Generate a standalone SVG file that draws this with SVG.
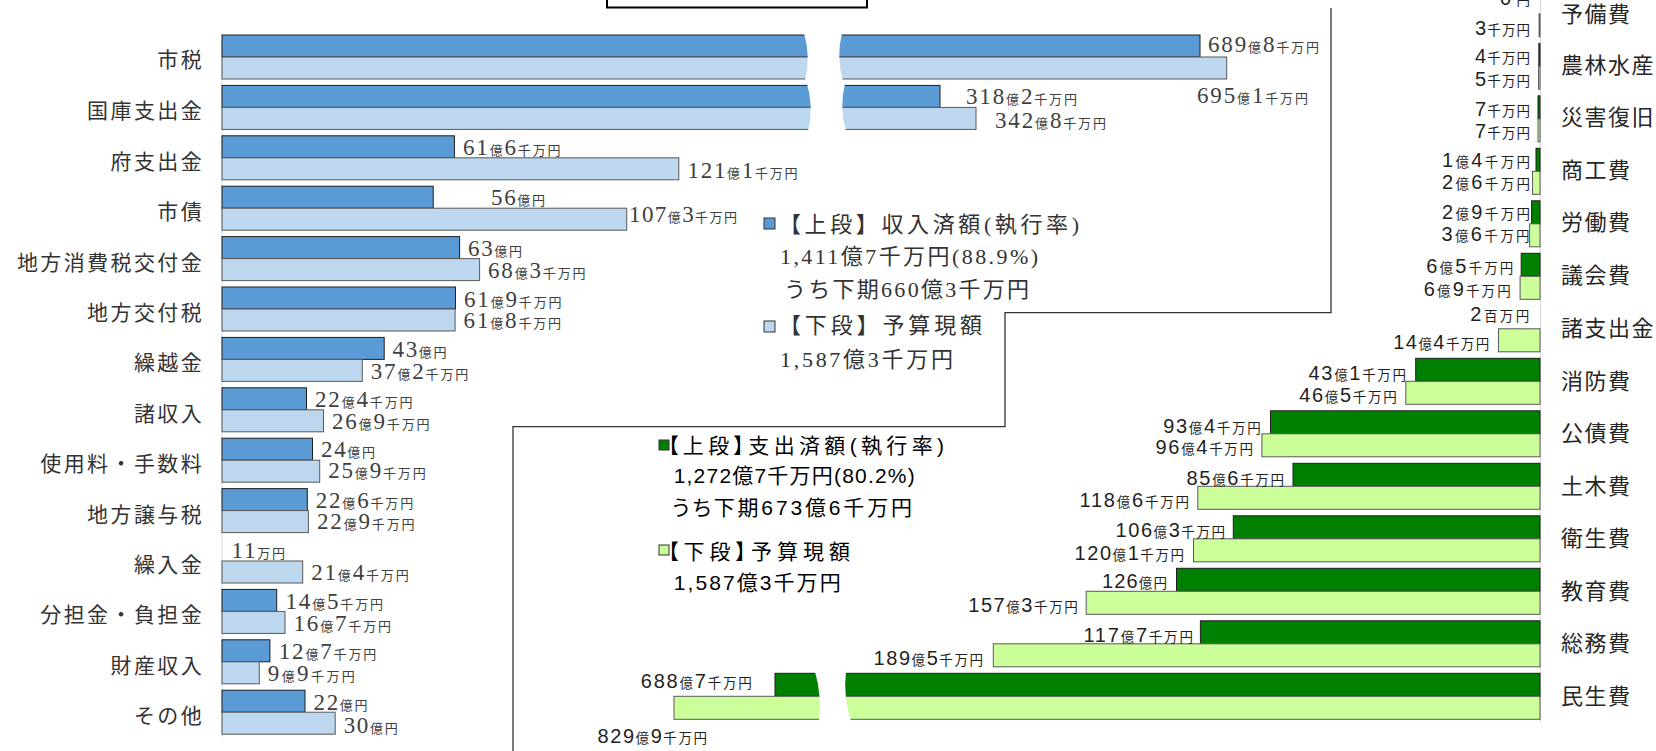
<svg xmlns="http://www.w3.org/2000/svg" width="1656" height="751" viewBox="0 0 1656 751">
<style>
.lc{font-family:"Noto Sans CJK JP",sans-serif;font-size:21px;fill:#333;letter-spacing:2.4px;text-anchor:end}
.rc{font-family:"Noto Sans CJK JP",sans-serif;font-size:22px;fill:#262626;letter-spacing:1.5px}
.lv{font-family:"Liberation Serif","Noto Sans CJK JP",serif;font-size:23px;fill:#404040}
.rv{font-family:"Liberation Sans","Noto Sans CJK JP",sans-serif;font-size:20px;fill:#1f1f1f;text-anchor:end}
.s{font-size:13px}
.rv .s{font-size:13.5px}
.b1{fill:#5B9BD5;stroke:#1f1f1f;stroke-width:1}
.b2{fill:#BDD7EE;stroke:#595959;stroke-width:1}
.g1{fill:#008000;stroke:#1f1f1f;stroke-width:1}
.g2{fill:#CCFF99;stroke:#595959;stroke-width:1}
.brk{fill:#fff;stroke:none}
.axis{stroke:#d9d9d9;stroke-width:1;fill:none}
.lg{font-family:"Liberation Serif","Noto Sans CJK JP",serif;font-size:22px;fill:#333}
.rg{font-family:"Liberation Sans","Noto Sans CJK JP",sans-serif;font-size:21px;fill:#000;font-feature-settings:"palt"}
</style>
<rect width="1656" height="751" fill="#fff"/>
<g id="connectors">
<rect x="607" y="-20" width="260" height="27.5" fill="#fff" stroke="#000" stroke-width="2"/>
<path d="M1331,8 V312.7 H1005 V426.7 H513 V751" fill="none" stroke="#333" stroke-width="1.3"/>
<line class="axis" x1="222" y1="33" x2="222" y2="737"/>
<line class="axis" x1="1540.5" y1="0" x2="1540.5" y2="722"/>
</g>
<!-- Revenue (left) -->
<g id="rev-0"><text class="lc" x="204.1" y="67">市税</text>
<rect class="b1" x="222" y="35" width="978" height="22"/><rect class="b2" x="222" y="57" width="1004.7" height="22"/>
<path class="brk" d="M804,33 Q811,57 805,81 L843,81 Q836,57 842,33 Z"/>
<text class="lv" x="1208" y="52" textLength="111">689<tspan class="s">億</tspan>8<tspan class="s">千万円</tspan></text>
<text class="lv" x="1197" y="103" textLength="111">695<tspan class="s">億</tspan>1<tspan class="s">千万円</tspan></text></g>
<g id="rev-1"><text class="lc" x="204.1" y="118.4">国庫支出金</text>
<rect class="b1" x="222" y="85.4" width="718" height="22"/><rect class="b2" x="222" y="107.4" width="754" height="22"/>
<path class="brk" d="M807,83.5 Q814,107.4 808,131.5 L846,131.5 Q839,107.4 845,83.5 Z"/>
<text class="lv" x="966" y="104" textLength="111">318<tspan class="s">億</tspan>2<tspan class="s">千万円</tspan></text>
<text class="lv" x="995" y="128.3" textLength="111">342<tspan class="s">億</tspan>8<tspan class="s">千万円</tspan></text></g>
<g id="rev-2"><text class="lc" x="204.1" y="168.8">府支出金</text>
<rect class="b1" x="222" y="135.8" width="232.4" height="22"/><rect class="b2" x="222" y="157.8" width="456.8" height="22"/>
<text class="lv" x="463" y="155" textLength="97.5">61<tspan class="s">億</tspan>6<tspan class="s">千万円</tspan></text>
<text class="lv" x="687.5" y="178.3" textLength="110">121<tspan class="s">億</tspan>1<tspan class="s">千万円</tspan></text></g>
<g id="rev-3"><text class="lc" x="204.1" y="219.2">市債</text>
<rect class="b1" x="222" y="186.2" width="211.2" height="22"/><rect class="b2" x="222" y="208.2" width="404.7" height="22"/>
<text class="lv" x="491" y="205" textLength="54">56<tspan class="s">億円</tspan></text>
<text class="lv" x="629" y="222" textLength="108">107<tspan class="s">億</tspan>3<tspan class="s">千万円</tspan></text></g>
<g id="rev-4"><text class="lc" x="204.1" y="269.6">地方消費税交付金</text>
<rect class="b1" x="222" y="236.6" width="237.6" height="22"/><rect class="b2" x="222" y="258.6" width="257.6" height="22"/>
<text class="lv" x="468" y="256" textLength="54">63<tspan class="s">億円</tspan></text>
<text class="lv" x="488" y="278.3" textLength="97.5">68<tspan class="s">億</tspan>3<tspan class="s">千万円</tspan></text></g>
<g id="rev-5"><text class="lc" x="204.1" y="320">地方交付税</text>
<rect class="b1" x="222" y="287" width="233.5" height="22"/><rect class="b2" x="222" y="309" width="233.1" height="22"/>
<text class="lv" x="464" y="306.7" textLength="97.5">61<tspan class="s">億</tspan>9<tspan class="s">千万円</tspan></text>
<text class="lv" x="463.6" y="328.3" textLength="97.5">61<tspan class="s">億</tspan>8<tspan class="s">千万円</tspan></text></g>
<g id="rev-6"><text class="lc" x="204.1" y="370.4">繰越金</text>
<rect class="b1" x="222" y="337.4" width="162.2" height="22"/><rect class="b2" x="222" y="359.4" width="140.3" height="22"/>
<text class="lv" x="392.5" y="357.3" textLength="54">43<tspan class="s">億円</tspan></text>
<text class="lv" x="370.8" y="379" textLength="97.5">37<tspan class="s">億</tspan>2<tspan class="s">千万円</tspan></text></g>
<g id="rev-7"><text class="lc" x="204.1" y="420.8">諸収入</text>
<rect class="b1" x="222" y="387.8" width="84.5" height="22"/><rect class="b2" x="222" y="409.8" width="101.5" height="22"/>
<text class="lv" x="315" y="406.7" textLength="97.5">22<tspan class="s">億</tspan>4<tspan class="s">千万円</tspan></text>
<text class="lv" x="332" y="429.3" textLength="97.5">26<tspan class="s">億</tspan>9<tspan class="s">千万円</tspan></text></g>
<g id="rev-8"><text class="lc" x="204.1" y="471.2">使用料・手数料</text>
<rect class="b1" x="222" y="438.2" width="90.5" height="22"/><rect class="b2" x="222" y="460.2" width="97.7" height="22"/>
<text class="lv" x="321" y="457.3" textLength="54">24<tspan class="s">億円</tspan></text>
<text class="lv" x="328.2" y="478.3" textLength="97.5">25<tspan class="s">億</tspan>9<tspan class="s">千万円</tspan></text></g>
<g id="rev-9"><text class="lc" x="204.1" y="521.6">地方譲与税</text>
<rect class="b1" x="222" y="488.6" width="85.3" height="22"/><rect class="b2" x="222" y="510.6" width="86.4" height="22"/>
<text class="lv" x="315.7" y="508" textLength="97.5">22<tspan class="s">億</tspan>6<tspan class="s">千万円</tspan></text>
<text class="lv" x="317" y="529.3" textLength="97.5">22<tspan class="s">億</tspan>9<tspan class="s">千万円</tspan></text></g>
<g id="rev-10"><text class="lc" x="204.1" y="572">繰入金</text>
<rect class="b2" x="222" y="561" width="80.7" height="22"/>
<text class="lv" x="231.5" y="558.3" textLength="53.5">11<tspan class="s">万円</tspan></text>
<text class="lv" x="311.2" y="580" textLength="97.5">21<tspan class="s">億</tspan>4<tspan class="s">千万円</tspan></text></g>
<g id="rev-11"><text class="lc" x="204.1" y="622.4">分担金・負担金</text>
<rect class="b1" x="222" y="589.4" width="54.7" height="22"/><rect class="b2" x="222" y="611.4" width="63" height="22"/>
<text class="lv" x="285.5" y="609.3" textLength="97.5">14<tspan class="s">億</tspan>5<tspan class="s">千万円</tspan></text>
<text class="lv" x="293.5" y="631" textLength="97.5">16<tspan class="s">億</tspan>7<tspan class="s">千万円</tspan></text></g>
<g id="rev-12"><text class="lc" x="204.1" y="672.8">財産収入</text>
<rect class="b1" x="222" y="639.8" width="47.9" height="22"/><rect class="b2" x="222" y="661.8" width="37.3" height="22"/>
<text class="lv" x="278.8" y="659.3" textLength="97.5">12<tspan class="s">億</tspan>7<tspan class="s">千万円</tspan></text>
<text class="lv" x="267.8" y="681" textLength="87">9<tspan class="s">億</tspan>9<tspan class="s">千万円</tspan></text></g>
<g id="rev-13"><text class="lc" x="204.1" y="723.2">その他</text>
<rect class="b1" x="222" y="690.2" width="83" height="22"/><rect class="b2" x="222" y="712.2" width="113.2" height="22"/>
<text class="lv" x="313.5" y="710" textLength="54">22<tspan class="s">億円</tspan></text>
<text class="lv" x="343.7" y="733.3" textLength="54">30<tspan class="s">億円</tspan></text></g>
<!-- Revenue legend -->
<g id="legend-revenue">
<rect x="764" y="218" width="11" height="11" fill="#5B9BD5" stroke="#333"/>
<text class="lg" x="779" y="232" textLength="300">【上段】収入済額(執行率)</text>
<text class="lg" x="780" y="264" textLength="258">1,411億7千万円(88.9%)</text>
<text class="lg" x="784" y="297" textLength="245">うち下期660億3千万円</text>
<rect x="764" y="321" width="11" height="11" fill="#BDD7EE" stroke="#333"/>
<text class="lg" x="779" y="333" textLength="203">【下段】予算現額</text>
<text class="lg" x="780" y="367" textLength="173">1,587億3千万円</text>
</g>
<!-- Expenditure legend -->
<g id="legend-expenditure">
<rect x="659" y="440" width="10" height="10" fill="#008000" stroke="#333"/>
<text class="rg" x="668" y="453" textLength="276">【上段】支出済額(執行率)</text>
<text class="rg" x="673.7" y="483.3" textLength="241">1,272億7千万円(80.2%)</text>
<text class="rg" x="672" y="515" textLength="240">うち下期673億6千万円</text>
<rect x="659" y="545" width="10" height="10" fill="#CCFF99" stroke="#333"/>
<text class="rg" x="668" y="559" textLength="182">【下段】予算現額</text>
<text class="rg" x="673.7" y="590" textLength="167">1,587億3千万円</text>
</g>
<!-- Expenditure (right) -->
<g id="exp-0"><text class="rc" x="1561" y="22">予備費</text>
<rect class="g2" x="1539.1" y="13.8" width="0.9" height="23"/>
<text class="rv" x="1530" y="5" textLength="30">0<tspan class="s">円</tspan></text>
<text class="rv" x="1530" y="35" textLength="55">3<tspan class="s">千万円</tspan></text></g>
<g id="exp-1"><text class="rc" x="1561" y="72.5">農林水産</text>
<rect class="g1" x="1538.85" y="43.3" width="1.15" height="23"/><rect class="g2" x="1538.56" y="66.3" width="1.44" height="23"/>
<text class="rv" x="1530" y="63" textLength="55">4<tspan class="s">千万円</tspan></text>
<text class="rv" x="1530" y="86" textLength="55">5<tspan class="s">千万円</tspan></text></g>
<g id="exp-2"><text class="rc" x="1561" y="125">災害復旧</text>
<rect class="g1" x="1538" y="95.8" width="2" height="23"/><rect class="g2" x="1538" y="118.8" width="2" height="23"/>
<text class="rv" x="1530" y="116" textLength="55">7<tspan class="s">千万円</tspan></text>
<text class="rv" x="1530" y="138" textLength="55">7<tspan class="s">千万円</tspan></text></g>
<g id="exp-3"><text class="rc" x="1561" y="177.5">商工費</text>
<rect class="g1" x="1536" y="148.3" width="4" height="23"/><rect class="g2" x="1532.5" y="171.3" width="7.5" height="23"/>
<text class="rv" x="1530" y="167" textLength="88">1<tspan class="s">億</tspan>4<tspan class="s">千万円</tspan></text>
<text class="rv" x="1530" y="189" textLength="88">2<tspan class="s">億</tspan>6<tspan class="s">千万円</tspan></text></g>
<g id="exp-4"><text class="rc" x="1561" y="230">労働費</text>
<rect class="g1" x="1531.6" y="200.8" width="8.4" height="23"/><rect class="g2" x="1529.6" y="223.8" width="10.4" height="23"/>
<text class="rv" x="1530" y="219" textLength="88">2<tspan class="s">億</tspan>9<tspan class="s">千万円</tspan></text>
<text class="rv" x="1529.5" y="241" textLength="88">3<tspan class="s">億</tspan>6<tspan class="s">千万円</tspan></text></g>
<g id="exp-5"><text class="rc" x="1561" y="283">議会費</text>
<rect class="g1" x="1521.2" y="253.3" width="18.8" height="23"/><rect class="g2" x="1520.1" y="276.3" width="19.9" height="23"/>
<text class="rv" x="1513.3" y="273" textLength="87">6<tspan class="s">億</tspan>5<tspan class="s">千万円</tspan></text>
<text class="rv" x="1510.7" y="296" textLength="87">6<tspan class="s">億</tspan>9<tspan class="s">千万円</tspan></text></g>
<g id="exp-6"><text class="rc" x="1561" y="336">諸支出金</text>
<rect class="g2" x="1498.5" y="328.8" width="41.5" height="23"/>
<text class="rv" x="1529.3" y="321" textLength="59">2<tspan class="s">百万円</tspan></text>
<text class="rv" x="1489.3" y="349" textLength="96">14<tspan class="s">億</tspan>4<tspan class="s">千万円</tspan></text></g>
<g id="exp-7"><text class="rc" x="1561" y="388.5">消防費</text>
<rect class="g1" x="1415.7" y="358.3" width="124.3" height="23"/><rect class="g2" x="1405.8" y="381.3" width="134.2" height="23"/>
<text class="rv" x="1406" y="380" textLength="97.5">43<tspan class="s">億</tspan>1<tspan class="s">千万円</tspan></text>
<text class="rv" x="1396.7" y="402" textLength="97.5">46<tspan class="s">億</tspan>5<tspan class="s">千万円</tspan></text></g>
<g id="exp-8"><text class="rc" x="1561" y="441">公債費</text>
<rect class="g1" x="1270.5" y="410.8" width="269.5" height="23"/><rect class="g2" x="1261.9" y="433.8" width="278.1" height="23"/>
<text class="rv" x="1260.7" y="432.7" textLength="97.5">93<tspan class="s">億</tspan>4<tspan class="s">千万円</tspan></text>
<text class="rv" x="1253" y="454" textLength="97.5">96<tspan class="s">億</tspan>4<tspan class="s">千万円</tspan></text></g>
<g id="exp-9"><text class="rc" x="1561" y="493.5">土木費</text>
<rect class="g1" x="1293" y="463.3" width="247" height="23"/><rect class="g2" x="1197.8" y="486.3" width="342.2" height="23"/>
<text class="rv" x="1284" y="485" textLength="97.5">85<tspan class="s">億</tspan>6<tspan class="s">千万円</tspan></text>
<text class="rv" x="1189" y="507.3" textLength="109.5">118<tspan class="s">億</tspan>6<tspan class="s">千万円</tspan></text></g>
<g id="exp-10"><text class="rc" x="1561" y="546">衛生費</text>
<rect class="g1" x="1233.3" y="515.8" width="306.7" height="23"/><rect class="g2" x="1193.5" y="538.8" width="346.5" height="23"/>
<text class="rv" x="1225" y="536.7" textLength="109.5">106<tspan class="s">億</tspan>3<tspan class="s">千万円</tspan></text>
<text class="rv" x="1184" y="560" textLength="109.5">120<tspan class="s">億</tspan>1<tspan class="s">千万円</tspan></text></g>
<g id="exp-11"><text class="rc" x="1561" y="598.5">教育費</text>
<rect class="g1" x="1176.5" y="568.3" width="363.5" height="23"/><rect class="g2" x="1086.2" y="591.3" width="453.8" height="23"/>
<text class="rv" x="1167" y="588" textLength="65">126<tspan class="s">億円</tspan></text>
<text class="rv" x="1077.7" y="611.7" textLength="109.5">157<tspan class="s">億</tspan>3<tspan class="s">千万円</tspan></text></g>
<g id="exp-12"><text class="rc" x="1561" y="651">総務費</text>
<rect class="g1" x="1200.4" y="620.8" width="339.6" height="23"/><rect class="g2" x="993.3" y="643.8" width="546.7" height="23"/>
<text class="rv" x="1192.9" y="641.7" textLength="109.5">117<tspan class="s">億</tspan>7<tspan class="s">千万円</tspan></text>
<text class="rv" x="983" y="665" textLength="109.5">189<tspan class="s">億</tspan>5<tspan class="s">千万円</tspan></text></g>
<g id="exp-13"><text class="rc" x="1561" y="703.5">民生費</text>
<rect class="g1" x="775" y="673.3" width="765" height="23"/><rect class="g2" x="674" y="696.3" width="866" height="23"/>
<path class="brk" d="M815,671.5 Q822,696 819,721 L851,721 Q843,696 846,671.5 Z"/>
<text class="rv" x="751.8" y="688" textLength="111">688<tspan class="s">億</tspan>7<tspan class="s">千万円</tspan></text>
<text class="rv" x="707" y="742.7" textLength="109.5">829<tspan class="s">億</tspan>9<tspan class="s">千万円</tspan></text></g>
</svg>
